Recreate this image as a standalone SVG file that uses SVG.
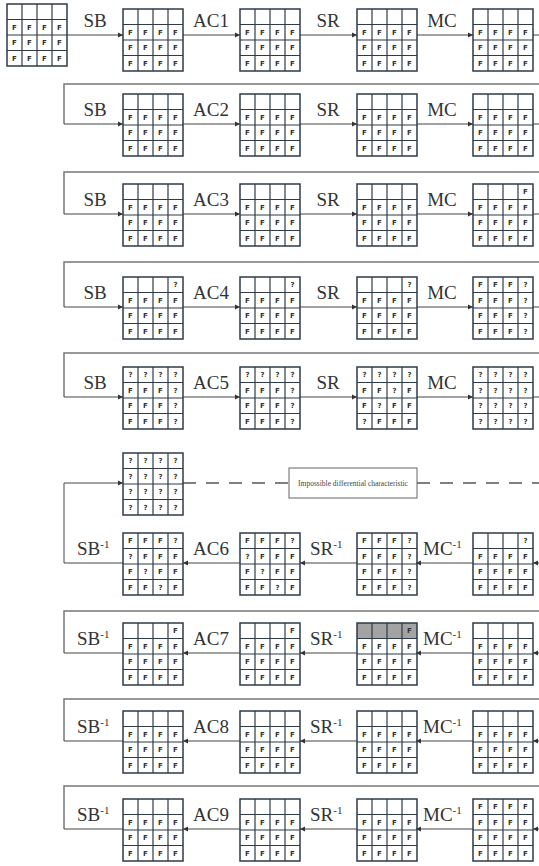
<svg xmlns="http://www.w3.org/2000/svg" xmlns:xlink="http://www.w3.org/1999/xlink" width="539" height="866" viewBox="0 0 539 866">
<style>
.t{font-family:"DejaVu Sans",sans-serif;font-weight:bold;font-size:7px;fill:#333;text-anchor:middle}
.lb{font-family:"Liberation Serif",serif;font-size:19px;fill:#333}
.lc{text-anchor:middle}
.sup{font-size:11px}
.cn{fill:none;stroke:#444;stroke-width:1}
.bx{fill:none;stroke:#777;stroke-width:1.5}
.ds{fill:none;stroke:#555;stroke-width:1.3;stroke-dasharray:13 10}
.gl{fill:none;stroke:#2f3b48;stroke-width:1.2}
</style>
<defs>
<marker id="ah" markerWidth="6" markerHeight="6" refX="5" refY="3" orient="auto" markerUnits="userSpaceOnUse"><path d="M0,0.6 L5,3 L0,5.4z" fill="#333"/></marker>
<g id="grid"><rect x="0" y="0" width="60" height="62" fill="none" stroke="#2f3b48" stroke-width="1.5"/><path class="gl" d="M15,0V62M30,0V62M45,0V62M0,15.5H60M0,31H60M0,46.5H60"/></g>
<g id="eF"><text class="t" x="7.5 22.5 37.5 52.5" y="25.8">FFFF</text><text class="t" x="7.5 22.5 37.5 52.5" y="41.3">FFFF</text><text class="t" x="7.5 22.5 37.5 52.5" y="56.8">FFFF</text></g>
</defs>
<rect width="539" height="866" fill="#fff"/>
<g id="connectors">
<path class="bx" d="M539,84H64V124"/>
<path class="bx" d="M539,172H64V214"/>
<path class="bx" d="M539,262H64V307"/>
<path class="bx" d="M539,353H64V397"/>
<path class="bx" d="M539,611H64V653"/>
<path class="bx" d="M539,699H64V741"/>
<path class="bx" d="M539,786H64V829"/>
<path class="cn" d="M67,35H123" marker-end="url(#ah)"/>
<path class="cn" d="M183,35H240" marker-end="url(#ah)"/>
<path class="cn" d="M300,35H357" marker-end="url(#ah)"/>
<path class="cn" d="M417,35H473" marker-end="url(#ah)"/>
<path class="cn" d="M533,35H539"/>
<path class="cn" d="M64,124H123" marker-end="url(#ah)"/>
<path class="cn" d="M183,124H240" marker-end="url(#ah)"/>
<path class="cn" d="M300,124H357" marker-end="url(#ah)"/>
<path class="cn" d="M417,124H473" marker-end="url(#ah)"/>
<path class="cn" d="M533,124H539"/>
<path class="cn" d="M64,214H123" marker-end="url(#ah)"/>
<path class="cn" d="M183,214H240" marker-end="url(#ah)"/>
<path class="cn" d="M300,214H357" marker-end="url(#ah)"/>
<path class="cn" d="M417,214H473" marker-end="url(#ah)"/>
<path class="cn" d="M533,214H539"/>
<path class="cn" d="M64,307H123" marker-end="url(#ah)"/>
<path class="cn" d="M183,307H240" marker-end="url(#ah)"/>
<path class="cn" d="M300,307H357" marker-end="url(#ah)"/>
<path class="cn" d="M417,307H473" marker-end="url(#ah)"/>
<path class="cn" d="M533,307H539"/>
<path class="cn" d="M64,397H123" marker-end="url(#ah)"/>
<path class="cn" d="M183,397H240" marker-end="url(#ah)"/>
<path class="cn" d="M300,397H357" marker-end="url(#ah)"/>
<path class="cn" d="M417,397H473" marker-end="url(#ah)"/>
<path class="cn" d="M533,397H539"/>
<path class="cn" d="M123,563H64V483H123" marker-end="url(#ah)"/>
<path class="ds" d="M183,483H289"/>
<path class="ds" d="M417,483H539"/>
<path class="cn" d="M539,563H533" marker-end="url(#ah)"/>
<path class="cn" d="M473,563H416" marker-end="url(#ah)"/>
<path class="cn" d="M357,563H300" marker-end="url(#ah)"/>
<path class="cn" d="M240,563H183" marker-end="url(#ah)"/>
<path class="cn" d="M123,653H64"/>
<path class="cn" d="M539,653H533" marker-end="url(#ah)"/>
<path class="cn" d="M473,653H416" marker-end="url(#ah)"/>
<path class="cn" d="M357,653H300" marker-end="url(#ah)"/>
<path class="cn" d="M240,653H183" marker-end="url(#ah)"/>
<path class="cn" d="M123,741H64"/>
<path class="cn" d="M539,741H533" marker-end="url(#ah)"/>
<path class="cn" d="M473,741H416" marker-end="url(#ah)"/>
<path class="cn" d="M357,741H300" marker-end="url(#ah)"/>
<path class="cn" d="M240,741H183" marker-end="url(#ah)"/>
<path class="cn" d="M123,829H64"/>
<path class="cn" d="M539,829H533" marker-end="url(#ah)"/>
<path class="cn" d="M473,829H416" marker-end="url(#ah)"/>
<path class="cn" d="M357,829H300" marker-end="url(#ah)"/>
<path class="cn" d="M240,829H183" marker-end="url(#ah)"/>
</g>
<g id="labels">
<text class="lb lc" x="95" y="27">SB</text><text class="lb lc" x="211" y="27">AC1</text><text class="lb lc" x="328" y="27">SR</text><text class="lb lc" x="442" y="27">MC</text>
<text class="lb lc" x="95" y="116">SB</text><text class="lb lc" x="211" y="116">AC2</text><text class="lb lc" x="328" y="116">SR</text><text class="lb lc" x="442" y="116">MC</text>
<text class="lb lc" x="95" y="206">SB</text><text class="lb lc" x="211" y="206">AC3</text><text class="lb lc" x="328" y="206">SR</text><text class="lb lc" x="442" y="206">MC</text>
<text class="lb lc" x="95" y="299">SB</text><text class="lb lc" x="211" y="299">AC4</text><text class="lb lc" x="328" y="299">SR</text><text class="lb lc" x="442" y="299">MC</text>
<text class="lb lc" x="95" y="389">SB</text><text class="lb lc" x="211" y="389">AC5</text><text class="lb lc" x="328" y="389">SR</text><text class="lb lc" x="442" y="389">MC</text>
<text class="lb" x="77" y="555">SB<tspan class="sup" dy="-7">-1</tspan></text><text class="lb" x="193" y="555">AC6</text><text class="lb" x="310" y="555">SR<tspan class="sup" dy="-7">-1</tspan></text><text class="lb" x="423" y="555">MC<tspan class="sup" dy="-7">-1</tspan></text>
<text class="lb" x="77" y="645">SB<tspan class="sup" dy="-7">-1</tspan></text><text class="lb" x="193" y="645">AC7</text><text class="lb" x="310" y="645">SR<tspan class="sup" dy="-7">-1</tspan></text><text class="lb" x="423" y="645">MC<tspan class="sup" dy="-7">-1</tspan></text>
<text class="lb" x="77" y="733">SB<tspan class="sup" dy="-7">-1</tspan></text><text class="lb" x="193" y="733">AC8</text><text class="lb" x="310" y="733">SR<tspan class="sup" dy="-7">-1</tspan></text><text class="lb" x="423" y="733">MC<tspan class="sup" dy="-7">-1</tspan></text>
<text class="lb" x="77" y="821">SB<tspan class="sup" dy="-7">-1</tspan></text><text class="lb" x="193" y="821">AC9</text><text class="lb" x="310" y="821">SR<tspan class="sup" dy="-7">-1</tspan></text><text class="lb" x="423" y="821">MC<tspan class="sup" dy="-7">-1</tspan></text>
</g>
<g id="idc"><rect x="289" y="468" width="128" height="30" fill="#fff" stroke="#666" stroke-width="1"/><text x="353" y="486" font-family="Liberation Serif,serif" font-size="7.5" fill="#444" text-anchor="middle">Impossible differential characteristic</text></g>
<!-- row 1 -->
<g id="r1g0" transform="translate(7,4)"><use href="#grid"/><use href="#eF"/></g>
<g id="r1g1" transform="translate(123,9)"><use href="#grid"/><use href="#eF"/></g>
<g id="r1g2" transform="translate(240,9)"><use href="#grid"/><use href="#eF"/></g>
<g id="r1g3" transform="translate(357,9)"><use href="#grid"/><use href="#eF"/></g>
<g id="r1g4" transform="translate(473,9)"><use href="#grid"/><use href="#eF"/></g>
<!-- row 2 -->
<g id="r2g1" transform="translate(123,94)"><use href="#grid"/><use href="#eF"/></g>
<g id="r2g2" transform="translate(240,94)"><use href="#grid"/><use href="#eF"/></g>
<g id="r2g3" transform="translate(357,94)"><use href="#grid"/><use href="#eF"/></g>
<g id="r2g4" transform="translate(473,94)"><use href="#grid"/><use href="#eF"/></g>
<!-- row 3 -->
<g id="r3g1" transform="translate(123,184)"><use href="#grid"/><use href="#eF"/></g>
<g id="r3g2" transform="translate(240,184)"><use href="#grid"/><use href="#eF"/></g>
<g id="r3g3" transform="translate(357,184)"><use href="#grid"/><use href="#eF"/></g>
<g id="r3g4" transform="translate(473,184)"><use href="#grid"/><use href="#eF"/><text class="t" x="52.5" y="10.3">F</text></g>
<!-- row 4 -->
<g id="r4g1" transform="translate(123,277)"><use href="#grid"/><use href="#eF"/><text class="t" x="52.5" y="10.3">?</text></g>
<g id="r4g2" transform="translate(240,277)"><use href="#grid"/><use href="#eF"/><text class="t" x="52.5" y="10.3">?</text></g>
<g id="r4g3" transform="translate(357,277)"><use href="#grid"/><use href="#eF"/><text class="t" x="52.5" y="10.3">?</text></g>
<g id="r4g4" transform="translate(473,277)"><use href="#grid"/><text class="t" x="7.5 22.5 37.5 52.5" y="10.3">FFF?</text><text class="t" x="7.5 22.5 37.5 52.5" y="25.8">FFF?</text><text class="t" x="7.5 22.5 37.5 52.5" y="41.3">FFF?</text><text class="t" x="7.5 22.5 37.5 52.5" y="56.8">FFF?</text></g>
<!-- row 5 -->
<g id="r5g1" transform="translate(123,367)"><use href="#grid"/><text class="t" x="7.5 22.5 37.5 52.5" y="10.3">????</text><text class="t" x="7.5 22.5 37.5 52.5" y="25.8">FFF?</text><text class="t" x="7.5 22.5 37.5 52.5" y="41.3">FFF?</text><text class="t" x="7.5 22.5 37.5 52.5" y="56.8">FFF?</text></g>
<g id="r5g2" transform="translate(240,367)"><use href="#grid"/><text class="t" x="7.5 22.5 37.5 52.5" y="10.3">????</text><text class="t" x="7.5 22.5 37.5 52.5" y="25.8">FFF?</text><text class="t" x="7.5 22.5 37.5 52.5" y="41.3">FFF?</text><text class="t" x="7.5 22.5 37.5 52.5" y="56.8">FFF?</text></g>
<g id="r5g3" transform="translate(357,367)"><use href="#grid"/><text class="t" x="7.5 22.5 37.5 52.5" y="10.3">????</text><text class="t" x="7.5 22.5 37.5 52.5" y="25.8">FF?F</text><text class="t" x="7.5 22.5 37.5 52.5" y="41.3">F?FF</text><text class="t" x="7.5 22.5 37.5 52.5" y="56.8">?FFF</text></g>
<g id="r5g4" transform="translate(473,367)"><use href="#grid"/><text class="t" x="7.5 22.5 37.5 52.5" y="10.3">????</text><text class="t" x="7.5 22.5 37.5 52.5" y="25.8">????</text><text class="t" x="7.5 22.5 37.5 52.5" y="41.3">????</text><text class="t" x="7.5 22.5 37.5 52.5" y="56.8">????</text></g>
<!-- row 6 -->
<g id="r6g1" transform="translate(123,453)"><use href="#grid"/><text class="t" x="7.5 22.5 37.5 52.5" y="10.3">????</text><text class="t" x="7.5 22.5 37.5 52.5" y="25.8">????</text><text class="t" x="7.5 22.5 37.5 52.5" y="41.3">????</text><text class="t" x="7.5 22.5 37.5 52.5" y="56.8">????</text></g>
<!-- row 7 -->
<g id="r7g1" transform="translate(123,533)"><use href="#grid"/><text class="t" x="7.5 22.5 37.5 52.5" y="10.3">FFF?</text><text class="t" x="7.5 22.5 37.5 52.5" y="25.8">?FFF</text><text class="t" x="7.5 22.5 37.5 52.5" y="41.3">F?FF</text><text class="t" x="7.5 22.5 37.5 52.5" y="56.8">FF?F</text></g>
<g id="r7g2" transform="translate(240,533)"><use href="#grid"/><text class="t" x="7.5 22.5 37.5 52.5" y="10.3">FFF?</text><text class="t" x="7.5 22.5 37.5 52.5" y="25.8">?FFF</text><text class="t" x="7.5 22.5 37.5 52.5" y="41.3">F?FF</text><text class="t" x="7.5 22.5 37.5 52.5" y="56.8">FF?F</text></g>
<g id="r7g3" transform="translate(357,533)"><use href="#grid"/><text class="t" x="7.5 22.5 37.5 52.5" y="10.3">FFF?</text><text class="t" x="7.5 22.5 37.5 52.5" y="25.8">FFF?</text><text class="t" x="7.5 22.5 37.5 52.5" y="41.3">FFF?</text><text class="t" x="7.5 22.5 37.5 52.5" y="56.8">FFF?</text></g>
<g id="r7g4" transform="translate(473,533)"><use href="#grid"/><use href="#eF"/><text class="t" x="52.5" y="10.3">?</text></g>
<!-- row 8 -->
<g id="r8g1" transform="translate(123,623)"><use href="#grid"/><use href="#eF"/><text class="t" x="52.5" y="10.3">F</text></g>
<g id="r8g2" transform="translate(240,623)"><use href="#grid"/><use href="#eF"/><text class="t" x="52.5" y="10.3">F</text></g>
<g id="r8g3" transform="translate(357,623)"><rect x="0" y="0" width="60" height="15.5" fill="#a3a3a3"/><use href="#grid"/><use href="#eF"/><text class="t" x="52.5" y="10.3">F</text></g>
<g id="r8g4" transform="translate(473,623)"><use href="#grid"/><use href="#eF"/></g>
<!-- row 9 -->
<g id="r9g1" transform="translate(123,711)"><use href="#grid"/><use href="#eF"/></g>
<g id="r9g2" transform="translate(240,711)"><use href="#grid"/><use href="#eF"/></g>
<g id="r9g3" transform="translate(357,711)"><use href="#grid"/><use href="#eF"/></g>
<g id="r9g4" transform="translate(473,711)"><use href="#grid"/><use href="#eF"/></g>
<!-- row 10 -->
<g id="r10g1" transform="translate(123,799)"><use href="#grid"/><use href="#eF"/></g>
<g id="r10g2" transform="translate(240,799)"><use href="#grid"/><use href="#eF"/></g>
<g id="r10g3" transform="translate(357,799)"><use href="#grid"/><use href="#eF"/></g>
<g id="r10g4" transform="translate(473,799)"><use href="#grid"/><use href="#eF"/><text class="t" x="7.5 22.5 37.5 52.5" y="10.3">FFFF</text></g>
</svg>
